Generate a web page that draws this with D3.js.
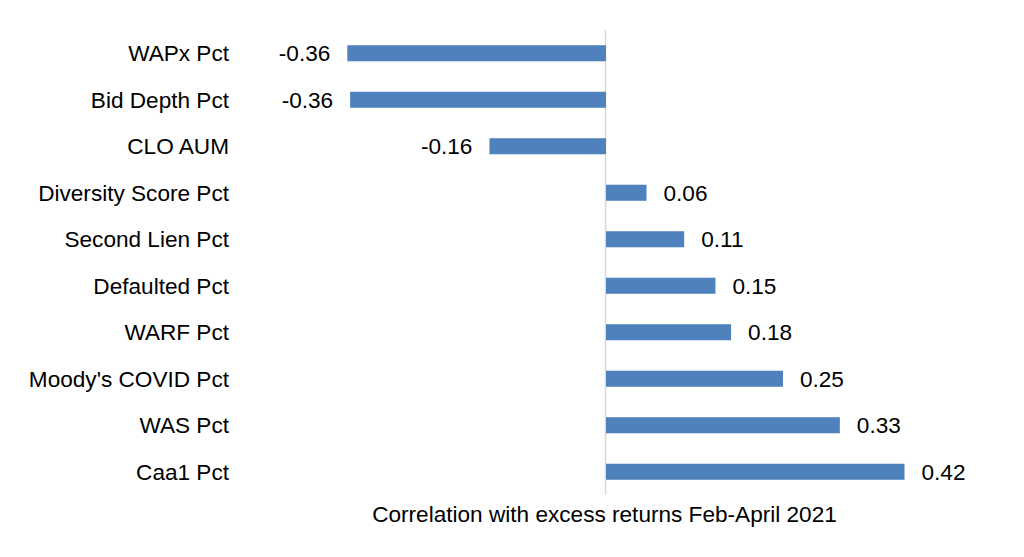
<!DOCTYPE html>
<html>
<head>
<meta charset="utf-8">
<script src="https://cdn.jsdelivr.net/npm/d3@7"></script>
<style>
  html, body { margin: 0; padding: 0; background: #fff; }
  svg { display: block; font-family: "Liberation Sans", Arial, sans-serif; }
</style>
</head>
<body>
<svg id="chart" width="1024" height="557"></svg>
<script>
const categories = ["WAPx Pct", "Bid Depth Pct", "CLO AUM", "Diversity Score Pct", "Second Lien Pct",
  "Defaulted Pct", "WARF Pct", "Moody's COVID Pct", "WAS Pct", "Caa1 Pct"];
const values = [-0.364, -0.36, -0.164, 0.057, 0.11, 0.154, 0.176, 0.249, 0.329, 0.42];
const axisTitle = "Correlation with excess returns Feb-April 2021";

const FS = 22.6;
const svg = d3.select("#chart");
const x = d3.scaleLinear().domain([0, 0.42]).range([606, 904.5]);
const y = d3.scaleBand().domain(categories).range([30, 495]).paddingInner(0.655).paddingOuter(0.3275);

// zero axis line
svg.append("line")
  .attr("x1", x(0) - 0.5).attr("x2", x(0) - 0.5)
  .attr("y1", 30).attr("y2", 495)
  .attr("stroke", "#d9d9d9").attr("stroke-width", 1.5);

const data = categories.map((c, i) => ({ c, v: values[i] }));

svg.selectAll("rect.bar").data(data).enter().append("rect")
  .attr("class", "bar")
  .attr("x", d => Math.min(x(0), x(d.v)))
  .attr("width", d => Math.abs(x(d.v) - x(0)))
  .attr("y", d => y(d.c))
  .attr("height", y.bandwidth())
  .attr("fill", "#4f81bd");

const fmt = d3.formatLocale({ decimal: ".", thousands: ",", grouping: [3], currency: ["", ""], minus: "-" }).format(".2f");
svg.selectAll("text.val").data(data).enter().append("text")
  .attr("class", "val")
  .attr("x", d => d.v < 0 ? x(d.v) - 17 : x(d.v) + 17)
  .attr("y", d => y(d.c) + y.bandwidth() / 2)
  .attr("dy", "0.36em")
  .attr("text-anchor", d => d.v < 0 ? "end" : "start")
  .attr("font-size", FS)
  .attr("fill", "#000")
  .text(d => fmt(d.v));

svg.selectAll("text.cat").data(data).enter().append("text")
  .attr("class", "cat")
  .attr("x", 229)
  .attr("y", d => y(d.c) + y.bandwidth() / 2)
  .attr("dy", "0.36em")
  .attr("text-anchor", "end")
  .attr("font-size", FS)
  .attr("fill", "#000")
  .text(d => d.c);

svg.append("text")
  .attr("x", 604.5)
  .attr("y", 522)
  .attr("text-anchor", "middle")
  .attr("font-size", FS)
  .attr("fill", "#000")
  .text(axisTitle);
</script>
</body>
</html>
